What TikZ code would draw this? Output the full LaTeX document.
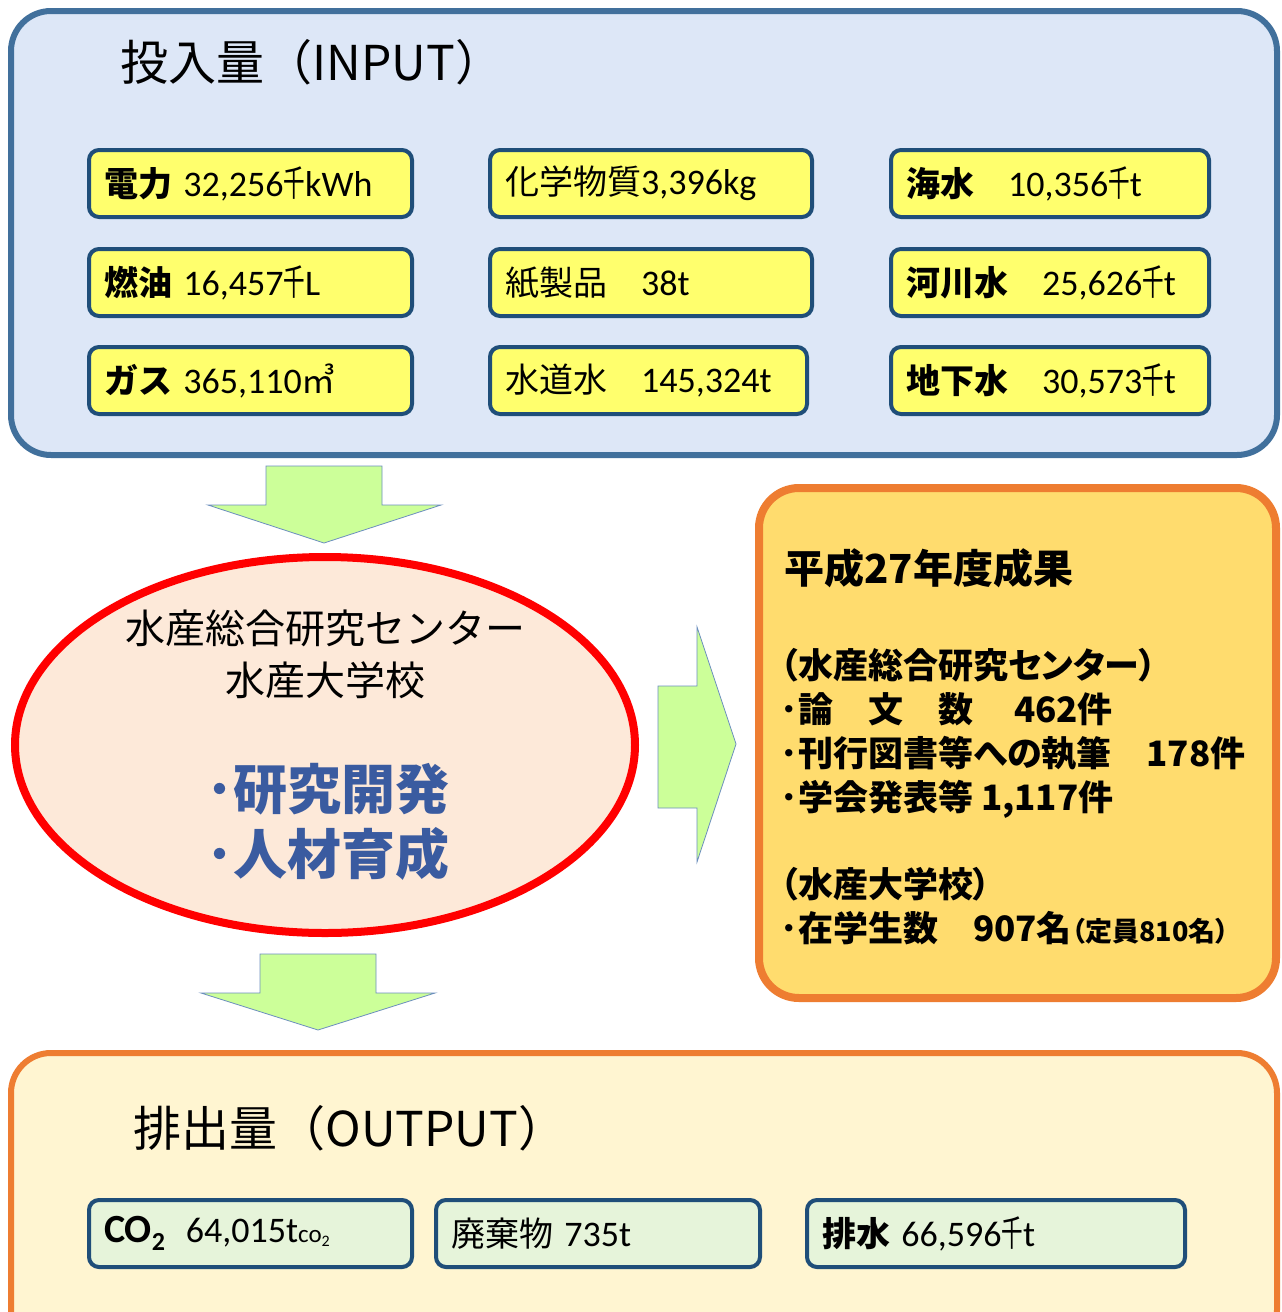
\documentclass[tikz,border=0pt]{standalone}
\usepackage{fontspec}
\usepackage{graphicx}
\usepackage{tikz}
\setmainfont{Noto Sans CJK JP}
\newfontfamily\latf{Carlito}
\newfontfamily\pjp[RawFeature=+palt]{Noto Sans CJK JP}

\definecolor{inpanel}{HTML}{DDE7F7}
\definecolor{inedge}{HTML}{41709C}
\definecolor{inyellow}{HTML}{FFFF6D}
\definecolor{boxblue}{HTML}{1F4E79}
\definecolor{arrowgreen}{HTML}{CCFF99}
\definecolor{arrowline}{HTML}{6C8EBF}
\definecolor{pinkfill}{HTML}{FDE9D9}
\definecolor{resfill}{HTML}{FFDC6E}
\definecolor{orangeedge}{HTML}{EE7D31}
\definecolor{outpanel}{HTML}{FFF5D1}
\definecolor{outgreen}{HTML}{E6F4DA}
\definecolor{jpblue}{HTML}{3A5BA0}

\newcommand{\sen}{\scalebox{0.6}[1]{\normalfont 千}}
\newcommand{\fsz}[1]{\fontsize{#1}{#1}\selectfont}
\newcommand{\nm}[1]{{\latf\fsz{36}#1}}

\tikzset{
  panel/.style={line width=6pt, rounded corners=40pt},
  inbox/.style={draw=boxblue, fill=inyellow, line width=4pt, rounded corners=10pt,
    minimum height=67pt, inner xsep=15pt, anchor=north west, align=left,
    text width=#1, font=\fsz{34}},
  outbox/.style={inbox=#1, fill=outgreen},
  bigarrow/.style={fill=arrowgreen, draw=arrowline, line width=0.8pt},
  ptitle/.style={anchor=west, font=\fsz{48}}
}

\begin{document}
\begin{tikzpicture}[x=1pt, y=-1pt]
    \clip (0,0) rectangle (1282,1312);
    \fill[white] (0,0) rectangle (1282,1312);

    \draw[panel, draw=inedge, fill=inpanel] (11,11) rectangle (1277,455);
    \node[ptitle] (intitle) at (117,62) {投入量（INPUT）};

    \node[inbox=293pt] (elec) at (87,148) {{\bfseries 電力} \nm{32,256\sen kWh}};
    \node[inbox=293pt] (oil) at (87,247) {{\bfseries 燃油} \nm{16,457\sen L}};
    \node[inbox=293pt] (gas) at (87,345) {{\bfseries ガス} \nm{365,110}㎥};
    \node[inbox=292pt] (chem) at (488,148) {化学物質\nm{3,396kg}};
    \node[inbox=292pt] (paper) at (488,247) {紙製品　\nm{38t}};
    \node[inbox=287pt] (tap) at (488,345) {水道水　\nm{145,324t}};
    \node[inbox=288pt] (sea) at (889,148) {{\bfseries 海水}　\nm{10,356\sen t}};
    \node[inbox=288pt] (river) at (889,247) {{\bfseries 河川水}　\nm{25,626\sen t}};
    \node[inbox=288pt] (ground) at (889,345) {{\bfseries 地下水}　\nm{30,573\sen t}};

    \draw[bigarrow] (266,466) -- (382,466) -- (382,505) -- (441,505) -- (324,543)
      -- (208,505) -- (266,505) -- cycle;

    \draw[line width=8pt, draw=red, fill=pinkfill] (325,745) ellipse [x radius=310pt, y radius=188pt];
    \node[align=center, font=\fsz{40}] (org) at (325,654) {水産総合研究センター\\[12pt]水産大学校};
    \node[align=left, text=jpblue, font=\bfseries\fontsize{54}{65}\selectfont] (task) at (328,822) {･研究開発\\･人材育成};

    \draw[bigarrow] (658,686) -- (697,686) -- (697,627) -- (736,744) -- (697,862)
      -- (697,808) -- (658,808) -- cycle;

    \draw[line width=8pt, rounded corners=40pt, draw=orangeedge, fill=resfill] (759,488) rectangle (1276,998);
    \node[anchor=west, font=\bfseries\fsz{40}] (restitle) at (781,568) {平成27年度成果};
    \node[anchor=west, align=left, font=\pjp\bfseries\fontsize{35}{44}\selectfont] (results) at (777,797)
      {（水産総合研究センター）\\
       ･論　文　数　\hspace{6pt}462件\\
       ･刊行図書等への執筆　178件\\
       ･学会発表等 1,117件\\[43pt]
       （水産大学校）\\
       ･在学生数　907名{\fsz{27}（定員810名）}};

    \draw[bigarrow] (260,954) -- (376,954) -- (376,993) -- (435,993) -- (318,1030)
      -- (201,993) -- (260,993) -- cycle;

    \draw[panel, draw=orangeedge, fill=outpanel] (11,1053) rectangle (1277,1350);
    \node[ptitle] (outtitle) at (130,1128) {排出量（OUTPUT）};

    \node[outbox=293pt] (co2) at (87,1198) {{\latf\bfseries\fsz{40}CO\raisebox{-8pt}{\fsz{26}2}}\;
      {\latf\fsz{36}64,015t\fsz{25}co\raisebox{-4pt}{\fsz{16}2}}};
    \node[outbox=294pt] (waste) at (434,1198) {廃棄物 \nm{735t}};
    \node[outbox=348pt] (drain) at (805,1198) {{\bfseries 排水} \nm{66,596\sen t}};
\end{tikzpicture}
\end{document}
